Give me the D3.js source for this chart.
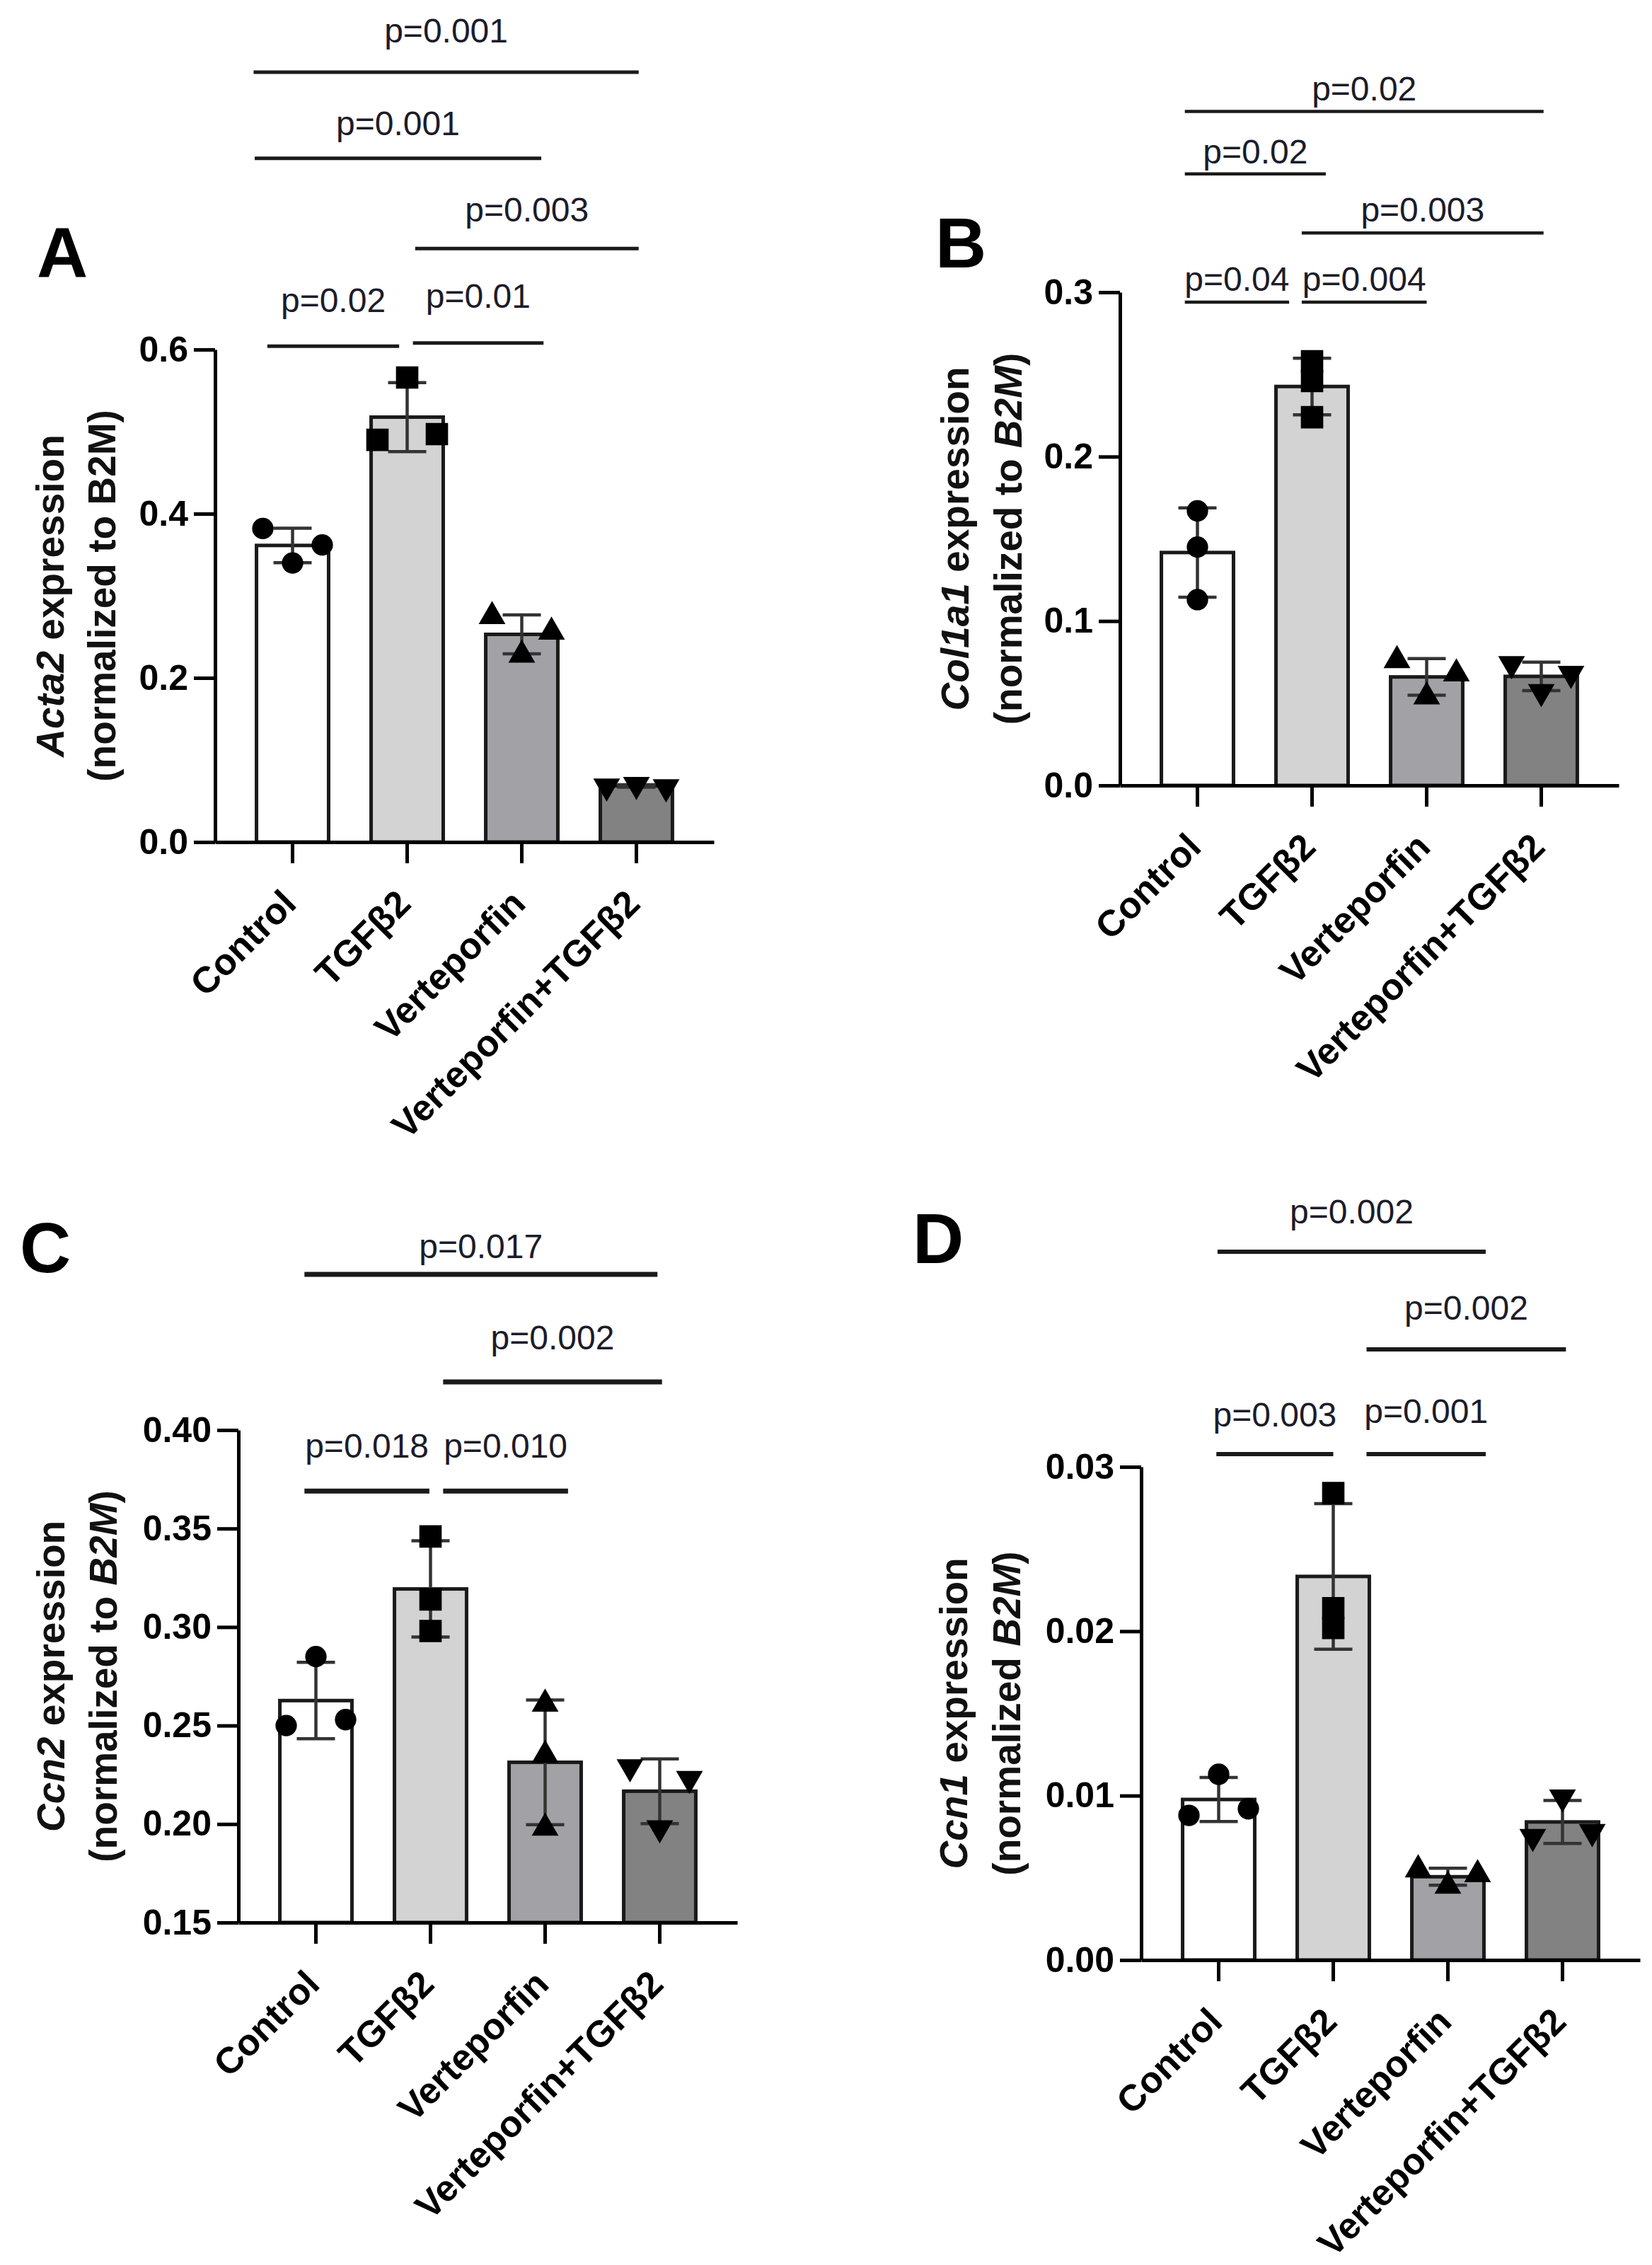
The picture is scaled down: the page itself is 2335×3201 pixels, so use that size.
<!DOCTYPE html>
<html><head><meta charset="utf-8">
<script src="https://cdn.jsdelivr.net/npm/d3@7"></script>
<style>body{margin:0;background:#fff} svg{display:block}</style>
</head><body>
<svg id="chart" width="2335" height="3201"></svg>
<script>
// ---------------- DATA ----------------
const categories = ["Control", "TGFβ2", "Verteporfin", "Verteporfin+TGFβ2"];

// replicate values per group (order: left, centre, right)
const acta2  = [[0.382, 0.340, 0.362], [0.490, 0.566, 0.497], [0.275, 0.228, 0.256], [0.068, 0.070, 0.067]];
const col1a1 = [[0.167, 0.145, 0.113], [0.258, 0.246, 0.224], [0.076, 0.054, 0.068], [0.074, 0.057, 0.068]];
const ccn2   = [[0.250, 0.285, 0.253], [0.346, 0.314, 0.298], [0.261, 0.235, 0.198], [0.229, 0.198, 0.223]];
const ccn1   = [[0.0088, 0.0113, 0.0092], [0.0284, 0.0214, 0.0202], [0.0055, 0.0045, 0.0052], [0.0075, 0.0099, 0.0078]];

const ticksA = [0, 0.2, 0.4, 0.6];
const ticksB = [0, 0.1, 0.2, 0.3];
const ticksC = [0.15, 0.20, 0.25, 0.30, 0.35, 0.40];
const ticksD = [0, 0.01, 0.02, 0.03];

// significance comparisons (group index pairs) and labels
const pairsA = [[0, 3], [0, 2], [1, 3], [0, 1], [1, 2]];
const pLabelsA = ["p=0.001", "p=0.001", "p=0.003", "p=0.02", "p=0.01"];
const pairsB = [[0, 3], [0, 1], [1, 3], [0, 1], [1, 2]];
const pLabelsB = ["p=0.02", "p=0.02", "p=0.003", "p=0.04", "p=0.004"];
const pairsC = [[0, 3], [1, 3], [0, 1], [1, 2]];
const pLabelsC = ["p=0.017", "p=0.002", "p=0.018", "p=0.010"];
const pairsD = [[0, 2], [1, 3], [0, 1], [1, 2]];
const pLabelsD = ["p=0.002", "p=0.002", "p=0.003", "p=0.001"];

// ---------------- LAYOUT / STYLE ----------------
// sig bar layout: start/end offsets (in band steps) from the paired group centres,
// level in data units, text gap in px
const sigLayoutA = [[-0.34, 0.02, 0.938, 42], [-0.33, 0.17, 0.833, 33], [0.07, 0.02, 0.723, 38], [-0.22, -0.07, 0.604, 48], [0.05, 0.19, 0.608, 50]];
const sigLayoutB = [[-0.11, 0.02, 0.410, 15], [-0.11, 0.12, 0.372, 15], [-0.09, 0.02, 0.336, 16], [-0.11, -0.20, 0.294, 16], [-0.09, 0.0, 0.294, 16]];
const sigLayoutC = [[-0.10, -0.02, 0.479, 23], [0.11, 0.02, 0.4244, 46], [-0.10, -0.01, 0.369, 47], [0.11, 0.20, 0.369, 47]];
const sigLayoutD = [[-0.01, 0.33, 0.04309, 40], [0.29, 0.03, 0.03715, 42], [-0.02, 0.0, 0.03078, 39], [0.29, 0.33, 0.03078, 44]];

const fills = ["#ffffff", "#d3d3d3", "#a2a2a6", "#828282"];
const symbols = [d3.symbolCircle, d3.symbolSquare, d3.symbolTriangle, d3.symbolTriangle];
const symbolSizes = [720, 1000, 620, 620];
const symbolRot = [0, 0, 0, 180];
const FONT = "'Liberation Sans', Arial, Helvetica, sans-serif";

const panels = [
  { letter: "A", letterX: 52, letterY: 392, values: acta2, ticks: ticksA, fmt: ".1f", domain: [0, 0.6],
    axisX: 304, yTop: 494, yBottom: 1190, pairs: pairsA, labels: pLabelsA, sig: sigLayoutA, sigW: 5,
    title1: [["Acta2", true], [" expression", false]], title2: [["(normalized to B2M)", false]], t1: 234, t2: 161,
    jitter: [1, 1, 1, 1] },
  { letter: "B", letterX: 1322, letterY: 378, values: col1a1, ticks: ticksB, fmt: ".1f", domain: [0, 0.3],
    axisX: 1583, yTop: 413, yBottom: 1110, pairs: pairsB, labels: pLabelsB, sig: sigLayoutB, sigW: 4.5,
    title1: [["Col1a1", true], [" expression", false]], title2: [["(normalized to ", false], ["B2M", true], [")", false]], t1: 234, t2: 159,
    jitter: [0, 0, 1, 1] },
  { letter: "C", letterX: 28, letterY: 1798, values: ccn2, ticks: ticksC, fmt: ".2f", domain: [0.15, 0.40],
    axisX: 337, yTop: 2021, yBottom: 2717, pairs: pairsC, labels: pLabelsC, sig: sigLayoutC, sigW: 7,
    title1: [["Ccn2", true], [" expression", false]], title2: [["(normalized to ", false], ["B2M", true], [")", false]], t1: 266, t2: 192,
    jitter: [1, 0, 0, 1] },
  { letter: "D", letterX: 1290, letterY: 1785, values: ccn1, ticks: ticksD, fmt: ".2f", domain: [0, 0.03],
    axisX: 1613, yTop: 2073, yBottom: 2770, pairs: pairsD, labels: pLabelsD, sig: sigLayoutD, sigW: 6,
    title1: [["Ccn1", true], [" expression", false]], title2: [["(normalized ", false], ["B2M", true], [")", false]], t1: 266, t2: 191,
    jitter: [1, 0, 1, 1] }
];

const svg = d3.select("#chart");
svg.append("rect").attr("width", 2335).attr("height", 3201).attr("fill", "#fff");

function drawPanel(p) {
  const g = svg.append("g");
  const xEnd = p.axisX + 705;
  const x = d3.scaleBand().domain(categories).range([p.axisX, xEnd])
    .paddingInner(0.34).paddingOuter(0.346).align(0.5);
  const y = d3.scaleLinear().domain(p.domain).range([p.yBottom, p.yTop]);
  const bw = x.bandwidth();
  const step = x.step();
  const cx = i => x(categories[i]) + bw / 2;

  const stats = p.values.map((v, i) => ({ i, cat: categories[i], mean: d3.mean(v), sd: d3.deviation(v), v }));

  // bars
  g.selectAll("rect.bar").data(stats).join("rect")
    .attr("class", "bar")
    .attr("x", d => x(d.cat) + 2.5)
    .attr("width", bw - 5)
    .attr("y", d => y(d.mean))
    .attr("height", d => y(p.domain[0]) - y(d.mean))
    .attr("fill", d => fills[d.i])
    .attr("stroke", "#1a1a1a").attr("stroke-width", 5);

  // error bars
  const eb = g.selectAll("g.eb").data(stats).join("g").attr("class", "eb")
    .attr("stroke", "#333").attr("stroke-width", 4.5);
  eb.append("line").attr("x1", d => cx(d.i)).attr("x2", d => cx(d.i))
    .attr("y1", d => y(d.mean + d.sd)).attr("y2", d => y(d.mean - d.sd));
  eb.append("line").attr("x1", d => cx(d.i) - 27).attr("x2", d => cx(d.i) + 27)
    .attr("y1", d => y(d.mean + d.sd)).attr("y2", d => y(d.mean + d.sd));
  eb.append("line").attr("x1", d => cx(d.i) - 27).attr("x2", d => cx(d.i) + 27)
    .attr("y1", d => y(d.mean - d.sd)).attr("y2", d => y(d.mean - d.sd));

  // points
  const pts = stats.flatMap(d => d.v.map((val, k) => ({ i: d.i, k, val })));
  g.selectAll("path.pt").data(pts).join("path").attr("class", "pt")
    .attr("d", d => d3.symbol().type(symbols[d.i]).size(symbolSizes[d.i])())
    .attr("transform", d => `translate(${cx(d.i) + (d.k - 1) * 42 * p.jitter[d.i]},${y(d.val)}) rotate(${symbolRot[d.i]})`)
    .attr("fill", "#000");

  // y axis
  const yAxis = d3.axisLeft(y).tickValues(p.ticks).tickFormat(d3.format(p.fmt))
    .tickSize(30).tickSizeOuter(0).tickPadding(8);
  const ya = g.append("g").attr("transform", `translate(${p.axisX},0)`).call(yAxis);
  ya.select(".domain").attr("stroke", "#000").attr("stroke-width", 5);
  ya.selectAll(".tick line").attr("stroke", "#000").attr("stroke-width", 5);
  ya.selectAll(".tick text").attr("font-family", FONT).attr("font-weight", "bold")
    .attr("font-size", 50).attr("fill", "#000");

  // x axis
  const xAxis = d3.axisBottom(x).tickSize(30).tickSizeOuter(0);
  const xa = g.append("g").attr("transform", `translate(0,${p.yBottom})`).call(xAxis);
  xa.select(".domain").attr("stroke", "#000").attr("stroke-width", 5);
  xa.selectAll(".tick line").attr("stroke", "#000").attr("stroke-width", 5);
  xa.selectAll(".tick text").attr("font-family", FONT).attr("font-weight", "bold")
    .attr("font-size", 52).attr("fill", "#000")
    .attr("text-anchor", "end").attr("y", null).attr("dy", null)
    .attr("transform", "translate(8,90) rotate(-45)");

  // y title
  const midY = (p.yTop + p.yBottom) / 2;
  [[p.title1, p.t1], [p.title2, p.t2]].forEach(([parts, off]) => {
    const t = g.append("text")
      .attr("transform", `translate(${p.axisX - off},${midY}) rotate(-90)`)
      .attr("text-anchor", "middle").attr("dy", "0.36em")
      .attr("font-family", FONT).attr("font-weight", "bold").attr("font-size", 55).attr("fill", "#111");
    parts.forEach(([s, it]) => t.append("tspan").text(s).attr("font-style", it ? "italic" : "normal"));
  });

  // panel letter
  g.append("text").attr("x", p.letterX).attr("y", p.letterY).text(p.letter)
    .attr("font-family", FONT).attr("font-weight", "bold").attr("font-size", 100).attr("fill", "#000");

  // significance bars
  p.pairs.forEach((pr, j) => {
    const [o1, o2, lvl, gap] = p.sig[j];
    const x1 = cx(pr[0]) + o1 * step, x2 = cx(pr[1]) + o2 * step;
    const yy = y(lvl);
    g.append("line").attr("x1", x1).attr("x2", x2).attr("y1", yy).attr("y2", yy)
      .attr("stroke", "#1a1a1a").attr("stroke-width", p.sigW);
    g.append("text").attr("x", (x1 + x2) / 2).attr("y", yy - gap).text(p.labels[j])
      .attr("text-anchor", "middle").attr("font-family", FONT).attr("font-size", 48).attr("fill", "#1c1c2a");
  });
}

panels.forEach(drawPanel);
</script>
</body></html>
